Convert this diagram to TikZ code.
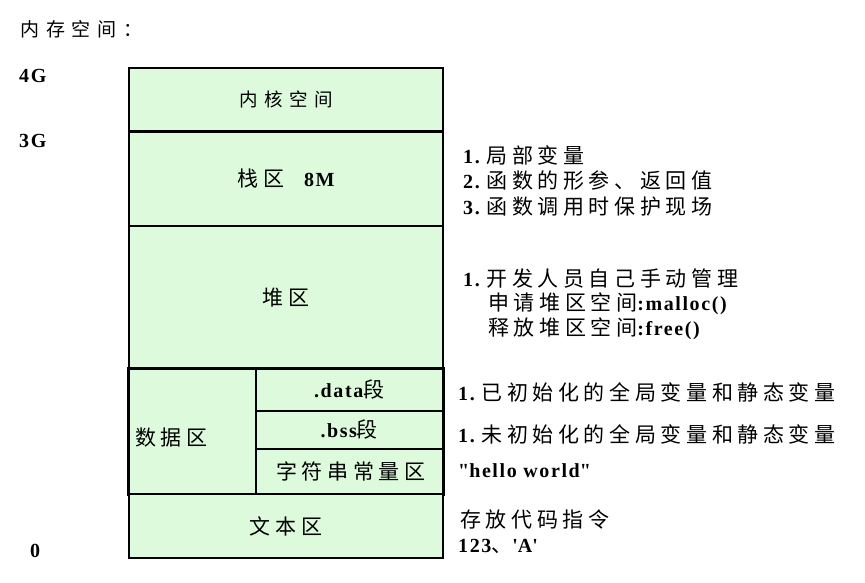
\documentclass[tikz,border=0pt]{standalone}
\usepackage{fontspec}
\setmainfont{Liberation Serif}
\newfontfamily\cjk[LetterSpace=22,Scale=1.05]{Noto Sans CJK SC}
\newfontfamily\cjksm[LetterSpace=36]{Noto Sans CJK SC}
\newfontfamily\latb[LetterSpace=8,BoldFont={Liberation Serif Bold}]{Liberation Serif}
\newcommand{\lt}{\latb\bfseries}
\definecolor{memgreen}{RGB}{221,250,221}
\begin{document}
\begin{tikzpicture}[x=1pt,y=-1pt,
  region/.style={draw=black, line width=2pt, fill=memgreen, anchor=north west, inner sep=0pt, font=\fontsize{20}{22}\selectfont},
  subregion/.style={region, line width=1.5pt},
  note/.style={anchor=west, inner sep=0pt, font=\fontsize{20}{22}\selectfont},
  addr/.style={anchor=west, inner sep=0pt, font=\fontsize{20}{22}\selectfont\lt}]
\useasboundingbox (0,0) rectangle (865,583);
% title
\node[note, font=\fontsize{19}{21}\selectfont] (title) at (20,29) {\cjksm 内存空间：};
% address labels
\node[addr] (a4) at (19,76) {4G};
\node[addr] (a3) at (19,141) {3G};
\node[addr] (a0) at (30,551) {0};
% regions
\node[region, minimum width=314, minimum height=63, font=\fontsize{18.5}{20}\selectfont] (kernel) at (128,67) {\cjksm 内核空间};
\node[region, minimum width=314, minimum height=95] (stack) at (128,130) {\cjk 栈区\hspace{20pt}{\lt 8M}};
\node[region, minimum width=314, minimum height=143] (heap) at (128,225) {\cjk 堆区};
\node[region, minimum width=127, minimum height=125] (data) at (128,368) {};
\node[note] (dlabel) at (135,438) {\cjk 数据区};
\node[subregion, minimum width=187, minimum height=42] (dseg) at (255,368) {{\lt .data}\cjk 段};
\node[subregion, minimum width=187, minimum height=38] (bseg) at (255,410) {{\lt .bss}\cjk 段};
\node[subregion, minimum width=187, minimum height=45] (cseg) at (255,448) {\hspace{3pt}\cjk 字符串常量区};
\draw[line width=2pt] (data.north west) rectangle (cseg.south east);
\node[region, minimum width=314, minimum height=64] (text) at (128,493) {\cjk 文本区};
\draw[line width=3pt] (kernel.south west) -- (kernel.south east);
% notes
\node[note] (s1) at (463,155) {{\lt 1.} \cjk 局部变量};
\node[note] (s2) at (463,181) {{\lt 2.} \cjk 函数的形参、返回值};
\node[note] (s3) at (463,207) {{\lt 3.} \cjk 函数调用时保护现场};
\node[note] (h1) at (463,279) {{\lt 1.} \cjk 开发人员自己手动管理};
\node[note] (h2) at (488,304) {\cjk 申请堆区空间{\lt :malloc()}};
\node[note] (h3) at (488,329) {\cjk 释放堆区空间{\lt :free()}};
\node[note] (d1) at (458,392) {{\lt 1.} \cjk 已初始化的全局变量和静态变量};
\node[note] (b1) at (458,434) {{\lt 1.} \cjk 未初始化的全局变量和静态变量};
\node[note] (c1) at (458,471) {\lt \textquotedbl hello world\textquotedbl};
\node[note] (t1) at (460,520) {\cjk 存放代码指令};
\node[note] (t2) at (458,546) {{\lt 123}{\cjk 、}{\lt \textquotesingle A\textquotesingle}};
\end{tikzpicture}
\end{document}
